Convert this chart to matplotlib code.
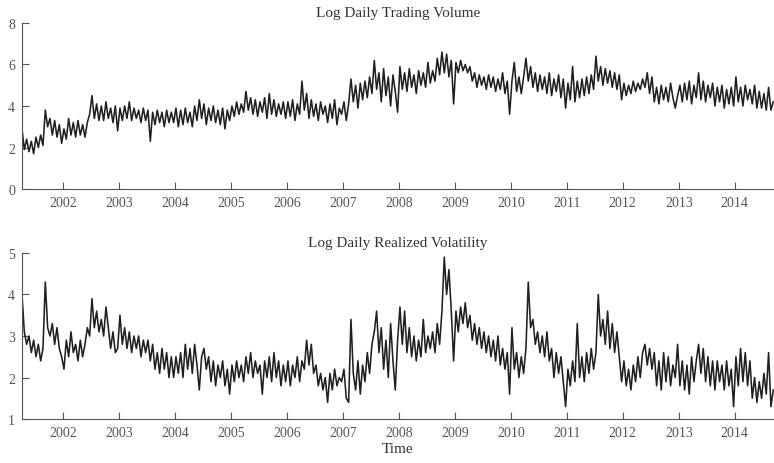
import numpy as np
import matplotlib
matplotlib.use("Agg")
import matplotlib.pyplot as plt

plt.rcParams['font.family'] = ['Liberation Serif', 'DejaVu Serif']

# semi-monthly readings, one row per year (first/last rows are partial years)
start_year = 2001.27
step = 1 / 24

log_volume = [
    [2.9, 1.9, 2.4, 1.8, 2.3, 1.7, 2.5, 2.0, 2.6, 2.1, 3.8, 3.0, 3.4, 2.6, 3.3, 2.5, 3.1],
    [2.2, 2.9, 2.4, 3.4, 2.6, 3.2, 2.5, 3.3, 2.6, 3.1, 2.5, 3.2, 3.6, 4.5, 3.4, 4.1, 3.3, 4.0, 3.3, 4.2, 3.4, 3.9, 3.2, 4.0],
    [2.8, 3.9, 3.3, 4.0, 3.4, 4.2, 3.3, 3.9, 3.4, 3.8, 3.2, 3.9, 3.3, 3.8, 2.3, 3.7, 3.1, 3.8, 3.2, 3.7, 3.0, 3.8, 3.2, 3.7],
    [3.2, 3.9, 3.0, 3.8, 3.1, 3.9, 3.2, 3.7, 3.0, 4.0, 3.3, 4.3, 3.4, 4.1, 3.1, 3.9, 3.3, 4.0, 3.2, 3.8, 3.1, 3.9, 2.9, 3.8],
    [3.3, 4.0, 3.5, 4.2, 3.6, 4.1, 3.7, 4.7, 3.8, 4.4, 3.6, 4.3, 3.5, 4.2, 3.7, 4.4, 3.4, 4.6, 3.6, 4.3, 3.5, 4.1, 3.6, 4.2],
    [3.4, 4.2, 3.5, 4.3, 3.3, 4.1, 3.6, 5.2, 3.8, 4.6, 3.4, 4.3, 3.5, 4.1, 3.3, 4.2, 3.6, 4.0, 3.2, 4.1, 3.4, 4.3, 3.1, 3.9],
    [3.6, 4.2, 3.3, 4.1, 5.3, 4.2, 5.0, 3.9, 5.1, 4.3, 5.2, 4.4, 5.4, 4.6, 6.2, 4.8, 5.6, 4.2, 5.8, 4.5, 5.4, 4.0, 5.5, 4.7],
    [3.7, 5.9, 4.8, 5.6, 4.7, 5.8, 4.9, 5.5, 4.6, 5.7, 5.0, 5.6, 4.9, 6.1, 5.1, 5.7, 5.2, 6.3, 5.5, 6.6, 5.6, 6.5, 5.4, 6.2],
    [4.1, 6.1, 5.6, 6.2, 5.7, 6.0, 5.6, 5.9, 5.2, 5.6, 4.9, 5.5, 5.0, 5.4, 4.8, 5.5, 4.9, 5.4, 4.7, 5.3, 4.8, 5.6, 4.6, 5.2],
    [3.6, 5.2, 6.1, 4.7, 5.4, 4.6, 5.4, 6.3, 5.2, 5.9, 4.9, 5.6, 4.7, 5.5, 4.8, 5.4, 4.6, 5.6, 4.5, 5.3, 4.7, 5.5, 4.4, 5.3],
    [3.9, 5.1, 4.3, 5.9, 4.2, 5.2, 4.4, 5.3, 4.5, 5.4, 4.6, 5.5, 4.8, 6.4, 5.2, 5.9, 5.0, 5.8, 5.1, 5.7, 4.9, 5.6, 4.8, 5.5],
    [4.3, 5.1, 4.5, 5.0, 4.6, 5.2, 4.7, 5.1, 4.8, 5.3, 4.9, 5.6, 4.6, 5.4, 4.2, 4.9, 4.1, 5.0, 4.3, 4.9, 4.2, 5.1, 4.4, 3.9],
    [4.5, 5.0, 4.2, 5.1, 4.3, 5.2, 4.1, 5.0, 4.4, 5.6, 4.3, 5.2, 4.2, 5.0, 4.4, 5.1, 4.0, 4.9, 4.2, 5.0, 3.9, 4.8, 4.1, 4.9],
    [4.0, 5.4, 4.2, 4.9, 4.0, 5.0, 4.3, 4.8, 4.1, 5.0, 3.9, 4.7, 3.9, 4.6, 3.8, 4.9, 3.8, 4.2],
]

log_rv = [
    [4.0, 3.1, 2.8, 3.0, 2.6, 2.9, 2.5, 2.8, 2.4, 2.7, 4.3, 3.2, 3.0, 3.3, 2.8, 3.2, 2.7],
    [2.5, 2.2, 2.9, 2.5, 3.1, 2.6, 2.8, 2.4, 2.9, 2.5, 2.8, 3.2, 3.0, 3.9, 3.2, 3.6, 3.1, 3.4, 3.0, 3.7, 3.2, 2.7, 3.1, 2.6],
    [2.7, 3.5, 2.8, 3.2, 2.7, 3.1, 2.6, 3.0, 2.7, 3.0, 2.5, 2.9, 2.6, 2.9, 2.4, 2.8, 2.2, 2.6, 2.1, 2.7, 2.2, 2.6, 2.0, 2.5],
    [2.0, 2.5, 2.1, 2.6, 2.0, 2.8, 2.2, 2.7, 2.1, 2.8, 2.3, 1.7, 2.5, 2.7, 2.2, 2.5, 1.9, 2.4, 1.8, 2.3, 2.0, 2.4, 1.8, 2.2],
    [1.6, 2.3, 1.9, 2.4, 2.0, 2.3, 1.9, 2.5, 2.1, 2.6, 2.0, 2.4, 2.1, 2.3, 1.6, 2.4, 2.0, 2.5, 1.9, 2.6, 2.0, 2.4, 1.8, 2.3],
    [1.9, 2.4, 1.8, 2.3, 2.0, 2.5, 1.9, 2.4, 2.2, 2.9, 2.3, 2.8, 2.1, 2.3, 1.8, 2.1, 1.7, 2.0, 1.4, 2.1, 1.7, 2.2, 1.8, 2.0],
    [1.9, 2.2, 1.5, 1.4, 3.4, 2.1, 1.7, 2.4, 1.6, 2.3, 1.9, 2.6, 2.1, 2.8, 3.1, 3.6, 2.6, 3.2, 2.2, 2.9, 2.0, 3.3, 2.4, 1.7],
    [2.9, 3.7, 2.8, 3.6, 2.6, 3.2, 2.5, 3.0, 2.4, 2.9, 2.5, 3.4, 2.6, 3.0, 2.7, 3.1, 2.6, 3.3, 2.8, 3.6, 4.9, 4.0, 4.6, 3.6],
    [2.4, 3.6, 3.1, 3.7, 3.3, 3.8, 3.2, 3.5, 2.9, 3.3, 2.8, 3.2, 2.7, 3.1, 2.6, 3.0, 2.5, 2.9, 2.4, 3.0, 2.3, 2.7, 2.2, 2.6],
    [1.6, 3.2, 2.2, 2.6, 2.0, 2.5, 2.1, 2.7, 4.3, 3.2, 3.4, 2.8, 3.1, 2.6, 3.0, 2.5, 3.1, 2.4, 2.7, 2.0, 2.6, 2.1, 2.5, 1.9],
    [1.3, 2.2, 1.8, 2.4, 1.9, 3.3, 2.0, 2.5, 1.9, 2.6, 2.1, 2.7, 2.2, 2.6, 4.0, 3.0, 3.4, 2.8, 3.6, 2.7, 3.3, 2.6, 3.1, 2.5],
    [1.9, 2.4, 1.8, 2.2, 1.7, 2.3, 1.9, 2.5, 2.0, 2.6, 2.8, 2.3, 2.7, 2.2, 2.6, 1.8, 2.4, 1.7, 2.6, 1.9, 2.5, 1.8, 2.3, 2.0],
    [2.8, 1.8, 2.4, 1.7, 2.3, 1.6, 2.5, 1.9, 2.4, 2.8, 2.1, 2.7, 1.9, 2.5, 1.8, 2.4, 1.7, 2.4, 1.9, 2.3, 1.7, 2.4, 1.8, 2.2],
    [1.3, 2.5, 1.8, 2.7, 1.9, 2.6, 1.8, 2.4, 1.5, 2.0, 1.4, 1.9, 1.5, 2.1, 1.6, 2.6, 1.3, 1.7],
]

years = list(range(2002, 2015))

vol = np.concatenate(log_volume)
rv = np.concatenate(log_rv)
t = start_year + step * np.arange(len(vol))

LINE = '#231f20'
TXT = '#555555'

fig = plt.figure(figsize=(7.74, 4.64), dpi=100)
ax1 = fig.add_axes([0.0284, 0.5905, 0.9716, 0.3578])
ax2 = fig.add_axes([0.0284, 0.0948, 0.9716, 0.3578])

def style(ax, yticks):
    ax.set_xlim(2001.27, 2014.70)
    ax.set_ylim(yticks[0], yticks[-1])
    ax.set_xticks(years)
    ax.set_xticklabels([str(y) for y in years])
    ax.set_yticks(yticks)
    for s in ('top', 'right'):
        ax.spines[s].set_visible(False)
    for s in ('left', 'bottom'):
        ax.spines[s].set_color('#555555')
        ax.spines[s].set_linewidth(0.8)
    ax.tick_params(direction='in', length=5, width=0.8, color='#555555',
                   labelsize=10, labelcolor=TXT, pad=5)

ax1.plot(t, vol, color=LINE, lw=1.15)
style(ax1, [0, 2, 4, 6, 8])
ax1.set_title('Log Daily Trading Volume', fontsize=11, color='#333333', pad=5)

ax2.plot(t, rv, color=LINE, lw=1.15)
style(ax2, [1, 2, 3, 4, 5])
ax2.set_title('Log Daily Realized Volatility', fontsize=11, color='#333333', pad=5)
ax2.set_xlabel('Time', fontsize=11, color='#333333', labelpad=2)

fig.savefig('out.png', dpi=100)
